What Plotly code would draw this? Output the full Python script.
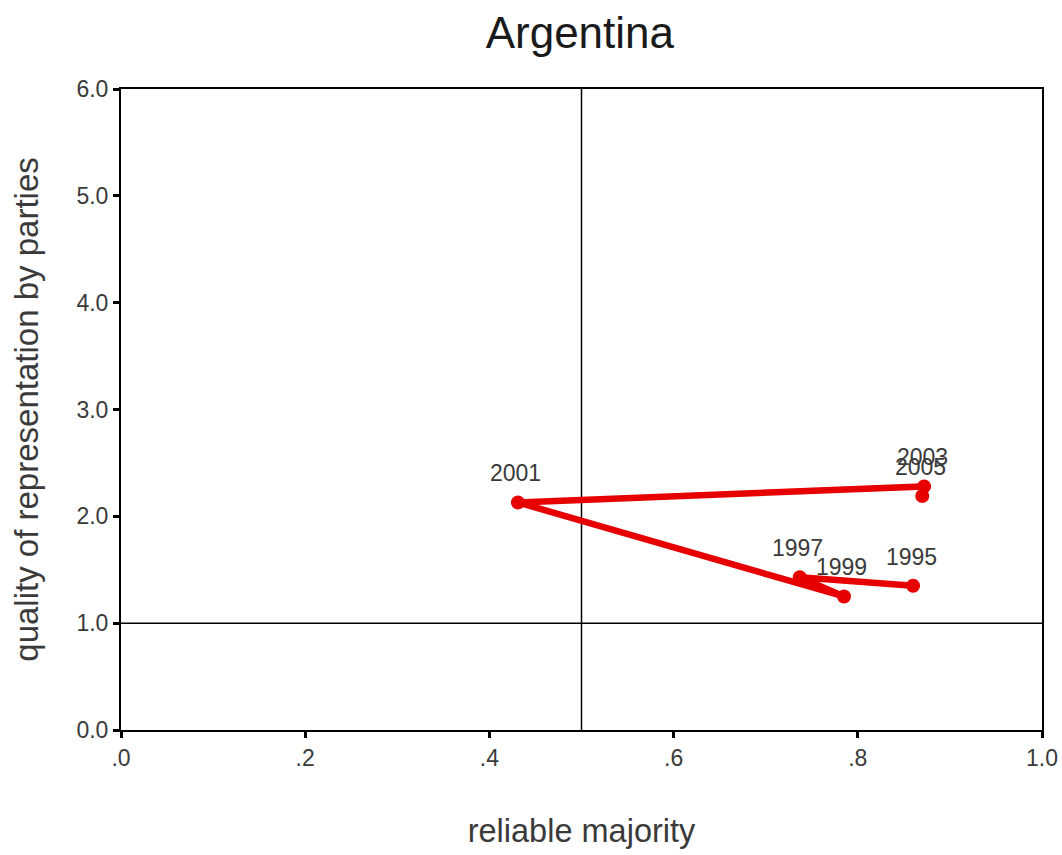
import plotly.graph_objects as go

# Argentina: reliable majority vs. quality of representation by parties
years = ["1995", "1997", "1999", "2001", "2003", "2005"]
reliable_majority = [0.860, 0.737, 0.785, 0.431, 0.872, 0.870]
representation_quality = [1.35, 1.43, 1.25, 2.13, 2.28, 2.19]

x_tickvals = [0.0, 0.2, 0.4, 0.6, 0.8, 1.0]
x_ticktext = [".0", ".2", ".4", ".6", ".8", "1.0"]
y_tickvals = [0, 1, 2, 3, 4, 5, 6]
y_ticktext = ["0.0", "1.0", "2.0", "3.0", "4.0", "5.0", "6.0"]

# quadrant dividers
x_cut = 0.5
y_cut = 1.0

FONT = "Liberation Sans, Arial, sans-serif"
RED = "#e60000"

fig = go.Figure()
fig.add_trace(go.Scatter(
    x=reliable_majority,
    y=representation_quality,
    mode="lines+markers",
    line=dict(color=RED, width=6.5),
    marker=dict(color=RED, size=14),
    hoverinfo="text",
    text=years,
    showlegend=False,
))

for yr, xv, yv in zip(years, reliable_majority, representation_quality):
    fig.add_annotation(
        x=xv, y=yv, text=yr, showarrow=False,
        xanchor="center", yanchor="middle", yshift=29, xshift=-2,
        font=dict(family=FONT, size=23, color="#3a3a3a"),
    )

fig.add_shape(type="line", xref="x", yref="y", x0=x_cut, x1=x_cut, y0=0, y1=6,
              line=dict(color="black", width=1.5), layer="below")
fig.add_shape(type="line", xref="x", yref="y", x0=0, x1=1, y0=y_cut, y1=y_cut,
              line=dict(color="black", width=1.5), layer="below")

fig.update_layout(
    width=1062, height=855,
    margin=dict(l=121, r=20, t=89, b=125),
    paper_bgcolor="white", plot_bgcolor="white",
    title=dict(text="Argentina", x=0.546, xanchor="center", y=0.962, yanchor="middle",
               font=dict(family=FONT, size=44, color="#1a1a1a")),
    font=dict(family=FONT, color="#3a3a3a"),
)
fig.update_xaxes(
    range=[0, 1], tickvals=x_tickvals, ticktext=x_ticktext,
    showgrid=False, zeroline=False,
    showline=True, linecolor="black", linewidth=2, mirror=True,
    ticks="outside", ticklen=6, tickwidth=3, tickcolor="black",
    tickfont=dict(family=FONT, size=23, color="#3a3a3a"),
    title=dict(text="reliable majority", standoff=50,
               font=dict(family=FONT, size=32.5, color="#3a3a3a")),
    automargin=False,
)
fig.update_yaxes(
    range=[0, 6], tickvals=y_tickvals, ticktext=y_ticktext,
    showgrid=False, zeroline=False,
    showline=True, linecolor="black", linewidth=2, mirror=True,
    ticks="outside", ticklen=6, tickwidth=3, tickcolor="black",
    tickfont=dict(family=FONT, size=23, color="#3a3a3a"),
    title=dict(text="quality of representation by parties", standoff=28,
               font=dict(family=FONT, size=33, color="#3a3a3a")),
    automargin=False,
)

fig.write_html("out.html")
